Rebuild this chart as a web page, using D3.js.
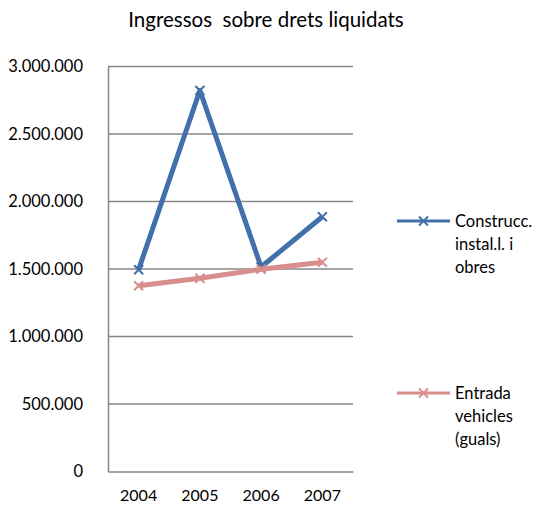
<!DOCTYPE html>
<html><head><meta charset="utf-8">
<script src="https://cdn.jsdelivr.net/npm/d3@7"></script>
<style>body{margin:0;background:#fff;} text{font-family:Lato, "Open Sans", sans-serif;fill:#000;}</style>
</head><body>
<svg id="c" width="536" height="514"></svg>
<script>
const categories = ["2004","2005","2006","2007"];
const seriesNames = [["Construcc.","instal.l. i","obres"],["Entrada","vehicles","(guals)"]];
const construccValues = [1495000, 2822000, 1515000, 1887000];
const entradaValues = [1376000, 1431000, 1498000, 1550000];
const yTicks = [0,500000,1000000,1500000,2000000,2500000,3000000];
const yTickLabels = ["0","500.000","1.000.000","1.500.000","2.000.000","2.500.000","3.000.000"];
const colors = ["#4270AA","#D78E8D"];

const svg = d3.select("#c");
const L=108, R=353, T=66.5, B=471.5;
const x = d3.scaleBand().domain(categories).range([L,R]);
const y = d3.scaleLinear().domain([0,3000000]).range([B,T]);

svg.append("text").attr("x",266).attr("y",27).attr("text-anchor","middle").attr("xml:space","preserve")
  .style("white-space","pre").style("font-size","20.5px").text("Ingressos  sobre drets liquidats");

// gridlines
svg.append("g").selectAll("line").data(yTicks.slice(1)).join("line")
  .attr("x1",L).attr("x2",R).attr("y1",d=>y(d)).attr("y2",d=>y(d))
  .attr("stroke","#868686").attr("stroke-width",1.5);
// axes
const yAxis = svg.append("g").attr("transform",`translate(${L},0)`)
  .call(d3.axisLeft(y).tickValues(yTicks).tickSize(0).tickPadding(25).tickFormat((d,i)=>yTickLabels[i]));
yAxis.select(".domain").attr("stroke","#868686").attr("stroke-width",1.5);
yAxis.selectAll("text").style("font-size","16.5px").style("font-family","Lato, sans-serif").attr("fill","#000");
const xAxis = svg.append("g").attr("transform",`translate(0,${B})`)
  .call(d3.axisBottom(x).tickSize(0).tickPadding(18));
xAxis.select(".domain").attr("stroke","#868686").attr("stroke-width",1.5);
xAxis.selectAll("text").style("font-size","16px").style("font-family","Lato, sans-serif").attr("fill","#000");

const data = [construccValues, entradaValues];
const cx = d=>x(d)+x.bandwidth()/2;
const line = d3.line().x((d,i)=>cx(categories[i])).y(d=>y(d));
const xMark = (g, px, py, col) => {
  const s=4.5;
  g.append("path").attr("d",`M${px-s},${py-s}L${px+s},${py+s}M${px-s},${py+s}L${px+s},${py-s}`)
   .attr("stroke",col).attr("stroke-width",2).attr("fill","none");
};
data.forEach((vals,si)=>{
  const g = svg.append("g");
  g.append("path").datum(vals).attr("d",line).attr("fill","none").attr("stroke",colors[si]).attr("stroke-width",5).attr("stroke-linejoin","round");
  vals.forEach((v,i)=>xMark(g,cx(categories[i]),y(v),colors[si]));
});

// legend
const legY = [221, 393];
seriesNames.forEach((names,si)=>{
  const g = svg.append("g");
  g.append("line").attr("x1",397).attr("x2",450).attr("y1",legY[si]).attr("y2",legY[si]).attr("stroke",colors[si]).attr("stroke-width",3);
  xMark(g,423.5,legY[si],colors[si]);
  names.forEach((n,j)=>{
    g.append("text").attr("x",455).attr("y",legY[si]+23*j).attr("dy","0.35em").style("font-size","16.5px").text(n);
  });
});
</script>
</body></html>
